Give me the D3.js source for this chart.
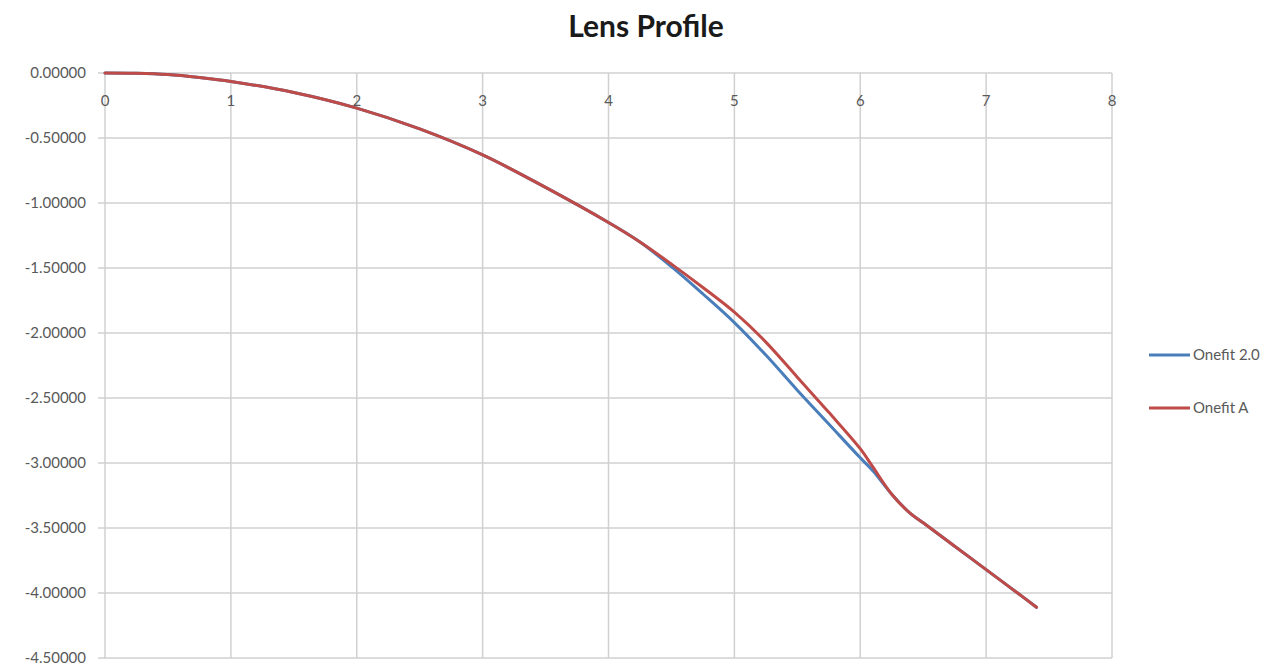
<!DOCTYPE html>
<meta charset="utf-8">
<style>
body { margin: 0; background: #fff; }
text { font-family: Lato, "Open Sans", sans-serif; fill: #595959; }
.grid line { stroke: #d0d0d0; stroke-width: 1.5px; }
</style>
<svg width="1287" height="669"></svg>
<script src="https://d3js.org/d3.v7.min.js"></script>
<script>

// lens profile data (x in mm, sag)
var xs_common = [0, 0.25, 0.5, 0.75, 1.0, 1.5, 2.0, 2.5, 3.0, 3.5, 4.0, 4.25];
var ys_common = [0, -0.002, -0.012, -0.035, -0.065, -0.15, -0.27, -0.43, -0.63, -0.88, -1.15, -1.30];

var xs_mid = [4.5, 4.75, 5.0, 5.25, 5.5, 5.75, 6.0, 6.1];
var ys_onefit20 = [-1.49, -1.70, -1.92, -2.17, -2.44, -2.70, -2.96, -3.06];
var ys_onefitA  = [-1.47, -1.65, -1.84, -2.07, -2.34, -2.61, -2.89, -3.03];

var xs_tail = [6.25, 6.4, 6.5, 6.75, 7.0, 7.25, 7.4];
var ys_tail = [-3.24, -3.39, -3.46, -3.64, -3.82, -4.00, -4.11];

var series_names = ["Onefit 2.0", "Onefit A"];
var series_colours = ["#4a7ebb", "#be4b48"];

var x_ticks = [0, 1, 2, 3, 4, 5, 6, 7, 8];
var y_ticks = [0, -0.5, -1, -1.5, -2, -2.5, -3, -3.5, -4, -4.5];

var svg = d3.select("svg");

var x = d3.scaleLinear().domain([0, 8]).range([105, 1112]);
var y = d3.scaleLinear().domain([0, -4.5]).range([73, 658]);

function buildSeries(mid) {
  var pts = [];
  xs_common.forEach(function(v, i) { pts.push([v, ys_common[i]]); });
  xs_mid.forEach(function(v, i) { pts.push([v, mid[i]]); });
  xs_tail.forEach(function(v, i) { pts.push([v, ys_tail[i]]); });
  return pts;
}
var series = [buildSeries(ys_onefit20), buildSeries(ys_onefitA)];

// title
svg.append("text")
  .attr("x", 646).attr("y", 37)
  .attr("text-anchor", "middle")
  .style("font-size", "30px")
  .style("font-weight", "bold")
  .style("fill", "#1a1a1a")
  .text("Lens Profile");

// gridlines
var grid = svg.append("g").attr("class", "grid");
grid.selectAll(".h").data(y_ticks).enter().append("line")
  .attr("x1", x(0) - 7).attr("x2", x(8))
  .attr("y1", function(d) { return y(d); })
  .attr("y2", function(d) { return y(d); });
grid.selectAll(".v").data(x_ticks).enter().append("line")
  .attr("x1", function(d) { return x(d); })
  .attr("x2", function(d) { return x(d); })
  .attr("y1", y(0)).attr("y2", y(-4.5));

// y labels
svg.append("g").selectAll("text").data(y_ticks).enter().append("text")
  .attr("x", 86)
  .attr("y", function(d) { return y(d) + 5; })
  .attr("text-anchor", "end")
  .style("font-size", "15px")
  .text(function(d) { return d3.format(".5f")(d).replace("−", "-"); });

// x labels (axis sits at y = 0)
svg.append("g").selectAll("text").data(x_ticks).enter().append("text")
  .attr("x", function(d) { return x(d); })
  .attr("y", y(0) + 33)
  .attr("text-anchor", "middle")
  .style("font-size", "15px")
  .text(function(d) { return d; });

// lines
var line = d3.line()
  .x(function(d) { return x(d[0]); })
  .y(function(d) { return y(d[1]); })
  .curve(d3.curveCatmullRom.alpha(0.5));

svg.append("g").selectAll("path").data(series).enter().append("path")
  .attr("d", line)
  .attr("fill", "none")
  .attr("stroke", function(d, i) { return series_colours[i]; })
  .attr("stroke-width", 3)
  .attr("stroke-linejoin", "round")
  .attr("stroke-linecap", "round");

// legend
var legend = svg.append("g").selectAll("g").data(series_names).enter().append("g")
  .attr("transform", function(d, i) { return "translate(1149," + (355 + i * 53) + ")"; });
legend.append("line")
  .attr("x1", 0).attr("x2", 41)
  .attr("stroke", function(d, i) { return series_colours[i]; })
  .attr("stroke-width", 3);
legend.append("text")
  .attr("x", 44).attr("y", 5)
  .style("font-size", "15px")
  .text(function(d) { return d; });

</script>
